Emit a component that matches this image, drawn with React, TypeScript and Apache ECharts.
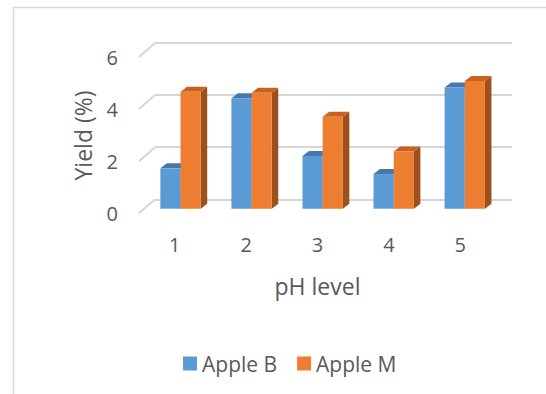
import React, { useEffect, useRef } from "react";
import * as echarts from "echarts";

// pH levels on the category axis
const categories = ["1", "2", "3", "4", "5"];
// yield (%) per pH level
const appleB = [1.55, 4.24, 2.02, 1.33, 4.65];
const appleM = [4.49, 4.45, 3.53, 2.2, 4.9];
// value-axis ticks
const yTicks = [0, 2, 4, 6];

const FONT = "'Open Sans', 'Noto Sans', sans-serif";
const TEXT = "#595959";
const GRID_LINE = "#d6d6d6";

// oblique depth of each bar (right / up)
const DEPTH_X = 6.5;
const DEPTH_Y = -5;
// offset from the back wall to the front plane
const WALL_DX = -16;
const WALL_DY = 14;
// share of one category band taken by each bar
const BAR_RATIO = 0.284;

type Palette = { front: string; top: string; side: string };
const paletteB: Palette = { front: "#5B9BD5", top: "#4778AA", side: "#3E6B97" };
const paletteM: Palette = { front: "#ED7D31", top: "#C8611E", side: "#9C501C" };

function makeBarRenderer(leftOfCenter: boolean, pal: Palette) {
  return (params: any, api: any) => {
    const cat = api.value(0);
    const v = api.value(1);
    const top = api.coord([cat, v]);
    const base = api.coord([cat, 0]);
    const band = api.size([1, 0])[0];
    const w = band * BAR_RATIO;
    const x0 = leftOfCenter ? top[0] - w : top[0];
    const x1 = x0 + w;
    const yt = top[1];
    const yb = base[1];
    return {
      type: "group",
      children: [
        {
          type: "polygon",
          shape: {
            points: [
              [x1, yt],
              [x1 + DEPTH_X, yt + DEPTH_Y],
              [x1 + DEPTH_X, yb + DEPTH_Y],
              [x1, yb],
            ],
          },
          style: { fill: pal.side },
        },
        {
          type: "polygon",
          shape: {
            points: [
              [x0, yt],
              [x0 + DEPTH_X, yt + DEPTH_Y],
              [x1 + DEPTH_X, yt + DEPTH_Y],
              [x1, yt],
            ],
          },
          style: { fill: pal.top },
        },
        {
          type: "rect",
          shape: { x: x0, y: yt, width: w, height: yb - yt },
          style: { fill: pal.front },
        },
      ],
    };
  };
}

// short receding strokes joining the front plane to the back-wall gridlines
function renderWallTicks(params: any, api: any) {
  const v = api.value(0);
  const p = api.coord([0, v]);
  const x = params.coordSys.x;
  return {
    type: "line",
    shape: { x1: x, y1: p[1], x2: x + WALL_DX, y2: p[1] + WALL_DY },
    style: { stroke: GRID_LINE, lineWidth: 2 },
  };
}

export default function App() {
  const ref = useRef<HTMLDivElement>(null);

  useEffect(() => {
    if (!ref.current) return;
    const chart = echarts.init(ref.current, undefined, { renderer: "svg" });

    const hiddenCat = (gridIndex: number) => ({
      type: "category" as const,
      gridIndex,
      data: categories,
      show: false,
    });
    const hiddenVal = (gridIndex: number) => ({
      type: "value" as const,
      gridIndex,
      min: 0,
      max: 6,
      interval: 2,
      show: false,
    });

    chart.setOption({
      animation: false,
      backgroundColor: "#ffffff",
      textStyle: { fontFamily: FONT },
      graphic: [
        {
          type: "rect",
          shape: { x: 13.5, y: 7.5, width: 600, height: 500 },
          style: { fill: "none", stroke: "#d9d9d9", lineWidth: 1.5 },
          silent: true,
          z: -10,
        },
      ],
      grid: [
        // back wall
        { left: 155, top: 43, width: 357, height: 156.3 },
        // plane of the bars
        { left: 145, top: 52.4, width: 355.3, height: 156.3 },
        // front plane carrying the axis labels
        { left: 139, top: 57.5, width: 357, height: 156 },
      ],
      xAxis: [
        hiddenCat(0),
        hiddenCat(1),
        {
          type: "category",
          gridIndex: 2,
          data: categories,
          axisLine: { show: false },
          axisTick: { show: false },
          axisLabel: { color: TEXT, fontSize: 20, fontFamily: FONT, margin: 21 },
          name: "pH level",
          nameLocation: "middle",
          nameGap: 61,
          nameTextStyle: { color: TEXT, fontSize: 23, fontFamily: FONT },
        },
      ],
      yAxis: [
        {
          type: "value",
          gridIndex: 0,
          min: 0,
          max: 6,
          interval: 2,
          axisLine: { show: false },
          axisTick: { show: false },
          axisLabel: { show: false },
          splitLine: {
            show: true,
            lineStyle: { color: GRID_LINE, width: 2 },
          },
        },
        hiddenVal(1),
        {
          type: "value",
          gridIndex: 2,
          min: 0,
          max: 6,
          interval: 2,
          axisLine: { show: false },
          axisTick: { show: false },
          splitLine: { show: false },
          axisLabel: { color: TEXT, fontSize: 20, fontFamily: FONT, margin: 21 },
          name: "Yield (%)",
          nameLocation: "middle",
          nameGap: 45,
          nameTextStyle: { color: TEXT, fontSize: 23, fontFamily: FONT },
        },
      ],
      legend: {
        data: ["Apple B", "Apple M"],
        left: 178,
        top: 348,
        icon: "rect",
        itemWidth: 14,
        itemHeight: 14,
        itemGap: 20,
        textStyle: { color: TEXT, fontSize: 21, fontFamily: FONT },
      },
      series: [
        {
          type: "custom",
          name: "wall-ticks",
          xAxisIndex: 0,
          yAxisIndex: 0,
          silent: true,
          data: yTicks.map((t) => [t]),
          encode: { y: 0 },
          renderItem: renderWallTicks,
        },
        {
          type: "custom",
          name: "Apple B",
          xAxisIndex: 1,
          yAxisIndex: 1,
          itemStyle: { color: paletteB.front },
          data: categories.map((_, i) => [i, appleB[i]]),
          encode: { x: 0, y: 1 },
          renderItem: makeBarRenderer(true, paletteB),
        },
        {
          type: "custom",
          name: "Apple M",
          xAxisIndex: 1,
          yAxisIndex: 1,
          itemStyle: { color: paletteM.front },
          data: categories.map((_, i) => [i, appleM[i]]),
          encode: { x: 0, y: 1 },
          renderItem: makeBarRenderer(false, paletteM),
        },
      ],
    });

    return () => chart.dispose();
  }, []);

  return (
    <div
      ref={ref}
      style={{ position: "fixed", left: 0, top: 0, width: 546, height: 394, background: "#fff" }}
    />
  );
}
